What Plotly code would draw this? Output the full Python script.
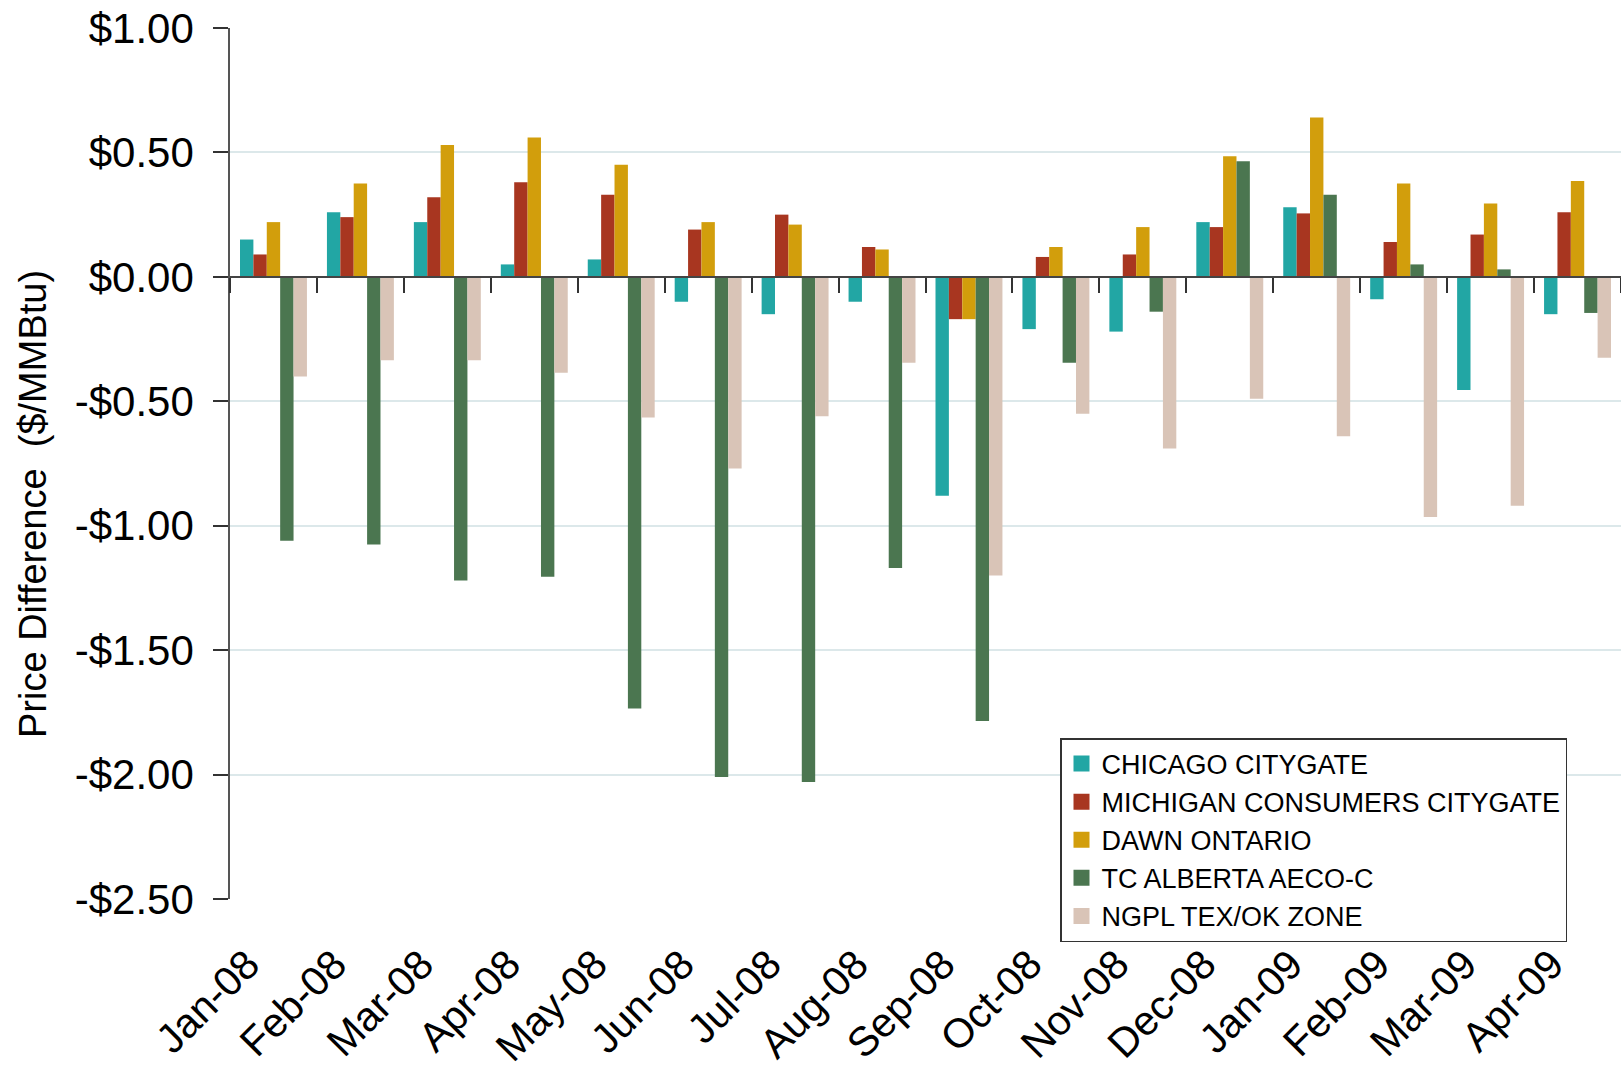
import plotly.graph_objects as go

months = ["Jan-08", "Feb-08", "Mar-08", "Apr-08", "May-08", "Jun-08", "Jul-08", "Aug-08",
          "Sep-08", "Oct-08", "Nov-08", "Dec-08", "Jan-09", "Feb-09", "Mar-09", "Apr-09"]

chicago = [0.15, 0.26, 0.22, 0.05, 0.07, -0.10, -0.15, -0.10, -0.88, -0.21, -0.22, 0.22, 0.28, -0.09, -0.455, -0.15]
michigan = [0.09, 0.24, 0.32, 0.38, 0.33, 0.19, 0.25, 0.12, -0.17, 0.08, 0.09, 0.20, 0.255, 0.14, 0.17, 0.26]
dawn = [0.22, 0.375, 0.53, 0.56, 0.45, 0.22, 0.21, 0.11, -0.17, 0.12, 0.20, 0.485, 0.64, 0.375, 0.295, 0.385]
alberta = [-1.06, -1.075, -1.22, -1.205, -1.735, -2.01, -2.03, -1.17, -1.785, -0.345, -0.14, 0.465, 0.33, 0.05, 0.03, -0.145]
ngpl = [-0.40, -0.335, -0.335, -0.385, -0.565, -0.77, -0.56, -0.345, -1.20, -0.55, -0.69, -0.49, -0.64, -0.965, -0.92, -0.325]

series_names = ["CHICAGO CITYGATE", "MICHIGAN CONSUMERS CITYGATE", "DAWN ONTARIO",
                "TC ALBERTA AECO-C", "NGPL TEX/OK ZONE"]
series_values = [chicago, michigan, dawn, alberta, ngpl]
series_colors = ["#22A6A4", "#A83620", "#D29E0C", "#4B7650", "#D9C4B7"]

y_ticks = [1.0, 0.5, 0.0, -0.5, -1.0, -1.5, -2.0, -2.5]
y_ticktext = [("-$%.2f" % abs(v)) if v < 0 else ("$%.2f" % v) for v in y_ticks]
y_range = [-2.5, 1.0]

FONT = "Liberation Sans, Arial, sans-serif"

fig = go.Figure()
for name, vals, col in zip(series_names, series_values, series_colors):
    fig.add_trace(go.Bar(x=months, y=vals, name=name, showlegend=False,
                         marker=dict(color=col, line=dict(width=0))))
# legend entries with larger square swatches
for name, col in zip(series_names, series_colors):
    fig.add_trace(go.Scatter(x=[None], y=[None], mode="markers", name=name,
                             marker=dict(symbol="square", size=16, color=col, line=dict(width=0)),
                             hoverinfo="skip"))

n = len(months)
zero_pos = (0 - y_range[0]) / (y_range[1] - y_range[0])

W, H = 1621, 1070
L, T, B = 230, 28, 171

fig.update_layout(
    template="none",
    width=W, height=H,
    margin=dict(l=L, r=0, t=T, b=B, pad=0),
    paper_bgcolor="white", plot_bgcolor="white",
    font=dict(family=FONT, color="black"),
    barmode="group", bargap=0.23, bargroupgap=0,
    showlegend=True,
    xaxis=dict(
        type="category", range=[-0.5, n - 0.5], automargin=False,
        showline=False, ticks="", showgrid=False, zeroline=False,
        tickangle=-45, tickfont=dict(size=41, family=FONT),
        ticklabelstandoff=32, ticklabelshift=-26,
        ticklabeloverflow="allow",
    ),
    xaxis2=dict(
        type="linear", overlaying="x", anchor="free", position=zero_pos,
        range=[-0.5, n - 0.5], tick0=0.5, dtick=1, automargin=False,
        showline=True, linecolor="#444", linewidth=2,
        ticks="outside", ticklen=15, tickwidth=2, tickcolor="#333",
        showticklabels=False, showgrid=False, zeroline=False,
    ),
    yaxis=dict(
        range=y_range, tickvals=y_ticks, ticktext=y_ticktext, automargin=False,
        tickfont=dict(size=42, family=FONT),
        showline=True, linecolor="#555", linewidth=1.5,
        ticks="outside", ticklen=15, tickwidth=1.5, tickcolor="#333",
        ticklabelstandoff=11, ticklabeloverflow="allow",
        showgrid=True, gridcolor="#DCE8EA", gridwidth=2,
        zeroline=False,
    ),
    legend=dict(
        x=(1060 - 230) / (1621 - 230), xanchor="left",
        y=(899 - 738) / (899 - 28), yanchor="top",
        bgcolor="white", bordercolor="#333", borderwidth=1.5,
        font=dict(size=27, family=FONT), tracegroupgap=0,
        itemsizing="trace",
    ),
    annotations=[dict(
        text="Price Difference \u00a0($/MMBtu)", textangle=-90,
        xref="paper", yref="paper",
        x=-(230 - 33) / (1621 - 230), y=(899 - 504) / (899 - 28),
        xanchor="center", yanchor="middle", showarrow=False,
        font=dict(size=38, family=FONT),
    )],
)
# dummy trace to activate xaxis2 (zero-line ticks)
fig.add_trace(go.Scatter(x=[None], y=[None], xaxis="x2", showlegend=False, hoverinfo="skip"))

fig.write_html("out.html", config={"displayModeBar": False},
               post_script="document.body.style.margin='0';")
